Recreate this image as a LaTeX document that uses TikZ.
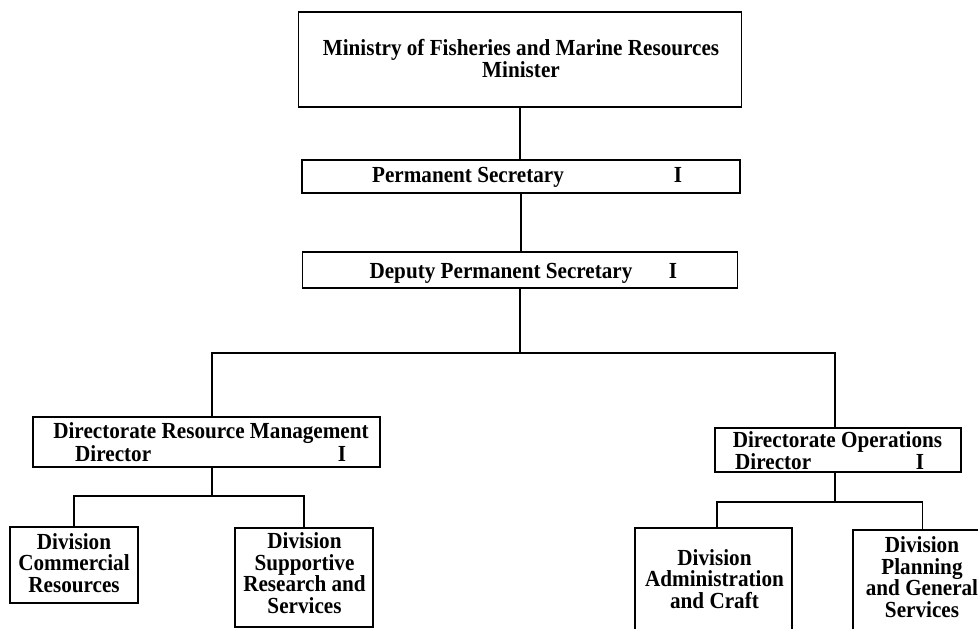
\documentclass[tikz,border=0pt]{standalone}
\usepackage{fontspec}
\setmainfont[FakeStretch=0.92]{Liberation Serif}
\usetikzlibrary{calc}
\newcommand{\chartfont}{\fontsize{23}{21.5}\selectfont\bfseries}

\begin{document}
\begin{tikzpicture}[x=1pt, y=-1pt, font=\chartfont,
    box/.style={draw, line width=1.8pt, inner sep=0pt},
    lbl/.style={inner sep=0pt, align=center, anchor=base},
    link/.style={line width=1.8pt}]
  \useasboundingbox (0,0) rectangle (978,629);
  \clip (0,0) rectangle (978,629);
  % ministry and secretaries
  \node[box, minimum width=443, minimum height=95] (min) at (520,59.5) {};
  \node[lbl] (mintext) at (521,77) {Ministry of Fisheries and Marine Resources\\Minister};
  \node[box, minimum width=438, minimum height=33] (permsec) at (521,176.5) {};
  \node[lbl] (permtext) at (468,182) {Permanent Secretary};
  \node[lbl] (permgrade) at (678,182) {I};
  \node[box, minimum width=435, minimum height=36] (deputy) at (520,270) {};
  \node[lbl] (deputytext) at (501,278) {Deputy Permanent Secretary};
  \node[lbl] (deputygrade) at (673,278) {I};
  % directorates
  \node[box, minimum width=347, minimum height=50] (dirres) at (206.5,442) {};
  \node[lbl] (dirrestext) at (211,438) {Directorate Resource Management};
  \node[lbl, anchor=base west] (dirreshead) at (75,461) {Director};
  \node[lbl] (dirresgrade) at (342,461) {I};
  \node[box, minimum width=246, minimum height=44] (dirops) at (838,450) {};
  \node[lbl] (diropstext) at (837.5,447) {Directorate Operations};
  \node[lbl, anchor=base west] (diropshead) at (735,469) {Director};
  \node[lbl] (diropsgrade) at (920,469) {I};
  % divisions
  \node[box, minimum width=128, minimum height=76] (divcom) at (74,565) {};
  \node[lbl] (divcomtext) at (74,592) {Division\\Commercial\\Resources};
  \node[box, minimum width=138, minimum height=99] (divsup) at (304,577.5) {};
  \node[lbl] (divsuptext) at (304.5,613) {Division\\Supportive\\Research and\\Services};
  \node[box, minimum width=157, minimum height=152] (divadm) at (713.5,604) {};
  \node[lbl] (divadmtext) at (714.5,608) {Division\\Administration\\and Craft};
  \node[box, minimum width=139, minimum height=150] (divplan) at (922.5,605) {};
  \node[lbl] (divplantext) at (922,617) {Division\\Planning\\and General\\Services};
  % connectors
  \coordinate (bus) at (520,353);
  \coordinate (resbus) at (212,496);
  \coordinate (opsbus) at (835,502);
  \draw[link] (min.south) -- (min.south |- permsec.north);
  \draw[link] (permsec.south) -- (permsec.south |- deputy.north);
  \draw[link] (deputy.south) -- (deputy.south |- bus);
  \draw[link] ([xshift=5.5pt]dirres.north) |- (bus) -| ([xshift=-3pt]dirops.north);
  \draw[link] ([xshift=5.5pt]dirres.south) -- (resbus);
  \draw[link] (divcom.north) |- (resbus) -| (divsup.north);
  \draw[link] ([xshift=-3pt]dirops.south) -- (opsbus);
  \draw[link] ([xshift=3.5pt]divadm.north) |- (opsbus) -| (divplan.north);
\end{tikzpicture}
\end{document}
